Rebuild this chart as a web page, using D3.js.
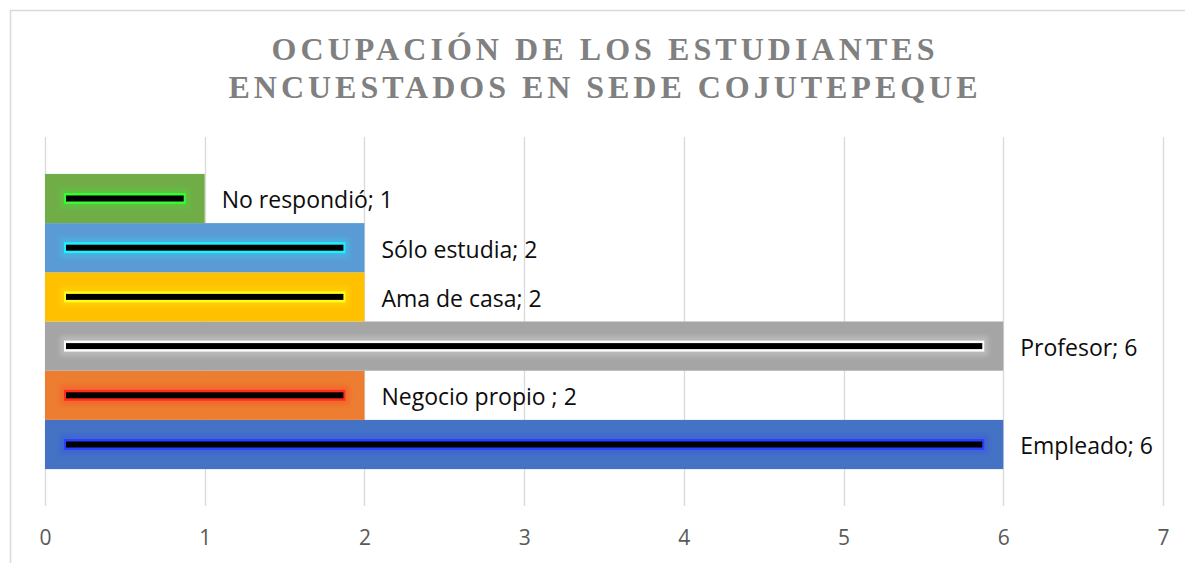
<!DOCTYPE html>
<html>
<head>
<meta charset="utf-8">
<script src="https://cdn.jsdelivr.net/npm/d3@7"></script>
<style>
  html, body { margin: 0; padding: 0; background: #fff; }
  svg { display: block; }
</style>
</head>
<body>
<svg id="chart" width="1185" height="563"></svg>
<script>
// Series of the survey: one bar per occupation (first series drawn at the bottom)
const seriesNames = ["Empleado", "Negocio propio ", "Profesor", "Ama de casa", "Sólo estudia", "No respondió"];
const seriesValues = [6, 2, 6, 2, 2, 1];
const seriesColors = ["#4472C4", "#ED7D31", "#A5A5A5", "#FFC000", "#5B9BD5", "#70AD47"];
const glowColors = ["#2a3dff", "#ff2a1a", "#ffffff", "#ffff1a", "#19f5ff", "#33ff33"];
const xTicks = [0, 1, 2, 3, 4, 5, 6, 7];
const titleLines = ["OCUPACIÓN DE LOS ESTUDIANTES", "ENCUESTADOS EN SEDE COJUTEPEQUE"];

const W = 1185, H = 563;
const plot = { left: 45, right: 1163, top: 137, bottom: 506 };

const svg = d3.select("#chart");

// soft glow used by the inner bevel lines
const defs = svg.append("defs");
defs.append("filter").attr("id", "soft").attr("x", "-20%").attr("y", "-200%")
  .attr("width", "140%").attr("height", "500%")
  .append("feGaussianBlur").attr("stdDeviation", 2);

// chart frame
svg.append("rect")
  .attr("x", 10.5).attr("y", 10.5)
  .attr("width", W).attr("height", H)
  .attr("fill", "#fff").attr("stroke", "#d9d9d9").attr("stroke-width", 1.5);

// title
const title = svg.append("g");
const titleWidths = [663, 749];
titleLines.forEach((t, i) => {
  title.append("text")
    .attr("x", 603 - titleWidths[i] / 2)
    .attr("y", 60 + i * 37.5)
    .attr("textLength", titleWidths[i])
    .attr("lengthAdjust", "spacing")
    .attr("font-family", "'Liberation Serif', 'Times New Roman', serif")
    .attr("font-weight", "bold")
    .attr("font-size", 32)
    .attr("fill", "#808080")
    .text(t);
});

const x = d3.scaleLinear().domain([0, 7]).range([plot.left, plot.right]);

const order = seriesNames.map((d, i) => i).reverse();
const y = d3.scaleBand()
  .domain(order)
  .range([plot.top, plot.bottom])
  .paddingInner(0)
  .paddingOuter(0.75);

// gridlines
svg.append("g")
  .selectAll("line")
  .data(xTicks)
  .join("line")
  .attr("x1", d => Math.round(x(d)) + 0.5)
  .attr("x2", d => Math.round(x(d)) + 0.5)
  .attr("y1", plot.top)
  .attr("y2", plot.bottom)
  .attr("stroke", "#d9d9d9")
  .attr("stroke-width", 1.3);

// x axis labels
const axis = d3.axisBottom(x).tickValues(xTicks).tickSize(0).tickPadding(0).tickFormat(d3.format("d"));
const axisG = svg.append("g")
  .attr("transform", `translate(0,${plot.bottom})`)
  .call(axis);
axisG.select(".domain").remove();
axisG.selectAll("text")
  .attr("y", 39)
  .attr("dy", 0)
  .attr("font-family", "'Open Sans', sans-serif")
  .attr("font-size", 21)
  .attr("fill", "#595959");

// bars
const bars = svg.append("g")
  .selectAll("g")
  .data(seriesNames.map((name, i) => ({ name, value: seriesValues[i], i })))
  .join("g");

bars.append("rect")
  .attr("x", x(0))
  .attr("y", d => y(d.i))
  .attr("width", d => x(d.value) - x(0))
  .attr("height", y.bandwidth())
  .attr("fill", d => seriesColors[d.i]);

const cy = d => y(d.i) + y.bandwidth() / 2;

// inner bevel line with glow
bars.append("rect")
  .attr("x", x(0) + 15)
  .attr("y", d => cy(d) - 10)
  .attr("width", d => x(d.value) - x(0) - 30)
  .attr("height", 20)
  .attr("fill", d => glowColors[d.i])
  .attr("opacity", 0.22)
  .attr("filter", "url(#soft)");

bars.append("rect")
  .attr("x", x(0) + 19)
  .attr("y", d => cy(d) - 5.5)
  .attr("width", d => x(d.value) - x(0) - 38)
  .attr("height", 11)
  .attr("fill", d => glowColors[d.i])
  .attr("opacity", 0.95);

bars.append("rect")
  .attr("x", x(0) + 21)
  .attr("y", d => cy(d) - 3)
  .attr("width", d => x(d.value) - x(0) - 42)
  .attr("height", 6)
  .attr("fill", "#000");

// data labels
bars.append("text")
  .attr("x", d => x(d.value) + 17)
  .attr("y", d => cy(d))
  .attr("dy", "0.43em")
  .attr("font-family", "'Open Sans', sans-serif")
  .attr("font-size", 23)
  .attr("fill", "#0d0d0d")
  .text(d => `${d.name}; ${d.value}`);
</script>
</body>
</html>
